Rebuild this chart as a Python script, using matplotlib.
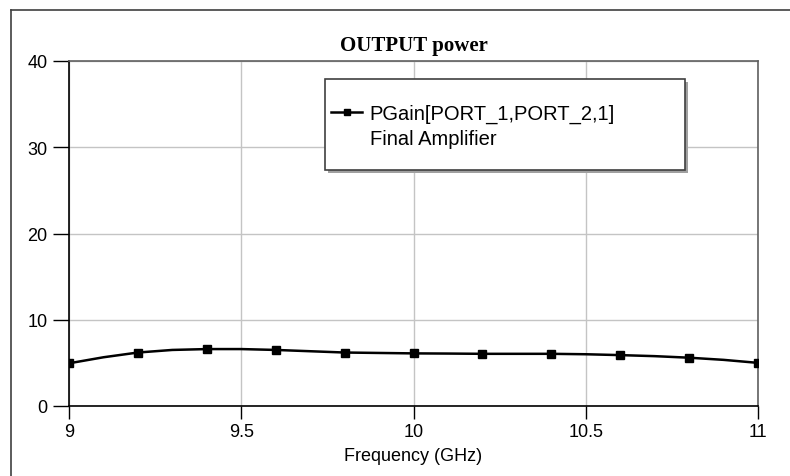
import matplotlib
matplotlib.use("Agg")
import matplotlib.pyplot as plt
from matplotlib.lines import Line2D
from matplotlib.patches import Rectangle

# Swept gain of the final amplifier stage (0.1 GHz steps, markers every 0.2 GHz)
freq_ghz = [9.0, 9.1, 9.2, 9.3, 9.4, 9.5, 9.6, 9.7, 9.8, 9.9, 10.0,
            10.1, 10.2, 10.3, 10.4, 10.5, 10.6, 10.7, 10.8, 10.9, 11.0]
pgain_db = [4.95, 5.65, 6.2, 6.5, 6.6, 6.6, 6.5, 6.35, 6.2, 6.15, 6.1,
            6.08, 6.05, 6.05, 6.05, 6.0, 5.9, 5.78, 5.6, 5.35, 5.0]
x_ticks = [9, 9.5, 10, 10.5, 11]
x_tick_labels = ["9", "9.5", "10", "10.5", "11"]
y_ticks = [0, 10, 20, 30, 40]
series_label = "PGain[PORT_1,PORT_2,1]"
series_note = "Final Amplifier"

plt.rcParams["font.family"] = ["Liberation Sans", "DejaVu Sans"]

fig = plt.figure(figsize=(7.9, 4.77), dpi=100)
fig.patch.set_facecolor("white")

# outer plot frame (top and left edges)
fig.add_artist(Line2D([11 / 790, 1.0], [1 - 11 / 477, 1 - 11 / 477],
                      transform=fig.transFigure, color="#404040", lw=1.2))
fig.add_artist(Line2D([11 / 790, 11 / 790], [0.0, 1 - 11 / 477],
                      transform=fig.transFigure, color="#404040", lw=1.2))

ax = fig.add_axes([69 / 790, 1 - 407 / 477, (758 - 69) / 790, (407 - 62) / 477])

ax.plot(freq_ghz, pgain_db, color="black", lw=1.8, marker="s",
        markersize=5.5, markevery=2, zorder=3)

ax.set_xlim(9, 11)
ax.set_ylim(0, 40)
ax.set_xticks(x_ticks)
ax.set_xticklabels(x_tick_labels)
ax.set_yticks(y_ticks)

ax.grid(True, color="#c4c4c4", lw=1.0)
ax.set_axisbelow(True)

for side in ("left", "bottom"):
    ax.spines[side].set_color("black")
    ax.spines[side].set_linewidth(1.2)
for side in ("top", "right"):
    ax.spines[side].set_color("#606060")
    ax.spines[side].set_linewidth(1.2)

ax.tick_params(axis="y", direction="out", length=11.5, width=1.0,
               color="black", labelsize=13, pad=4)
ax.tick_params(axis="x", direction="out", length=9.5, width=1.0,
               color="black", labelsize=13, pad=3)

ax.set_xlabel("Frequency (GHz)", fontsize=13, labelpad=5)
ax.set_title("OUTPUT power", fontsize=15, fontweight="bold",
             family="Liberation Serif", pad=8)

# legend box with drop shadow
x0, x1 = 0.3716, 0.894
y0, y1 = 0.684, 0.948
ax.add_patch(Rectangle((x0 + 0.005, y0 - 0.009), x1 - x0, y1 - y0,
                       transform=ax.transAxes, facecolor="#a0a0a0",
                       edgecolor="none", zorder=5))
ax.add_patch(Rectangle((x0, y0), x1 - x0, y1 - y0, transform=ax.transAxes,
                       facecolor="white", edgecolor="#404040", lw=1.2,
                       zorder=6))

handles = [Line2D([], [], color="black", lw=1.8, marker="s", markersize=4.5),
           Line2D([], [], linestyle="none")]
leg = ax.legend(handles, [series_label, series_note], loc="upper left",
                bbox_to_anchor=(x0 - 0.014, y1 - 0.025), frameon=False,
                fontsize=14.5, handlelength=1.5, handletextpad=0.4,
                labelspacing=0.32, borderpad=0.3)
leg.set_zorder(7)

fig.savefig("out.png", dpi=100, facecolor="white")
